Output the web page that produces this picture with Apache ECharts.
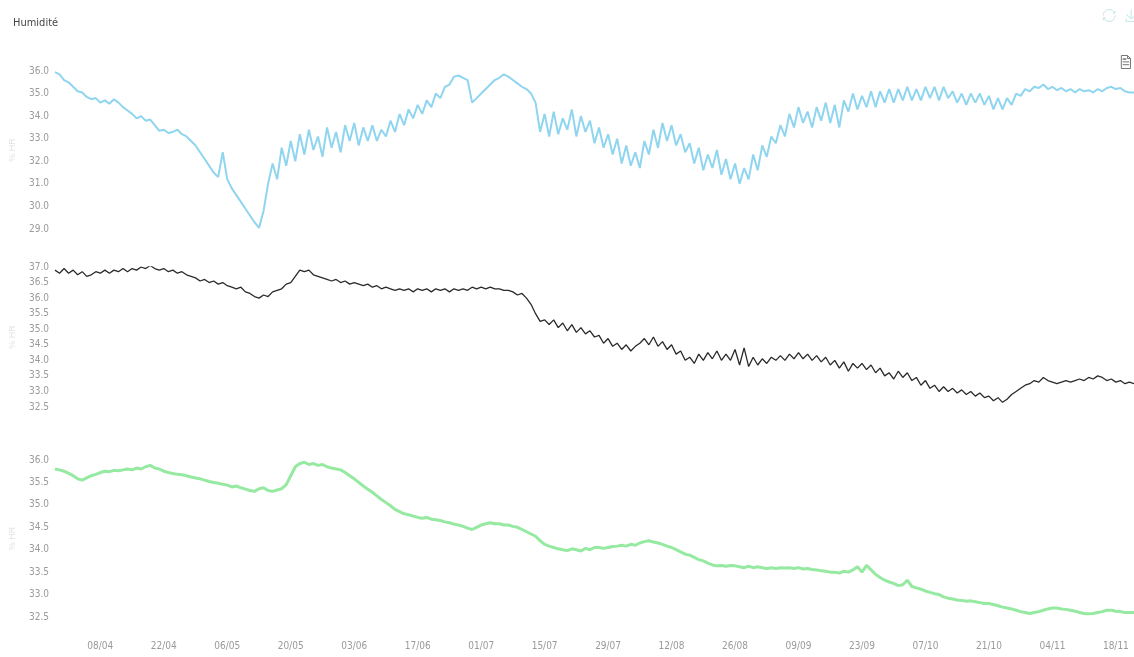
<!DOCTYPE html>
<html>
<head>
<meta charset="utf-8">
<script src="https://cdn.jsdelivr.net/npm/echarts@6/dist/echarts.min.js"></script>
<style>
html,body{margin:0;padding:0;background:#fff;}
#chart{width:1134px;height:657px;}
</style>
</head>
<body>
<div id="chart"></div>
<script>
// Dates: daily from 29/03 to 22/11
const startDate = {year: 2021, month: 3, day: 29};
const dayCount = 239;
const tickOffset = 10;   // first label (08/04) index
const tickStep = 14;

const humiditeA = [
35.95,35.85,35.6,35.5,35.3,35.1,35.05,34.85,34.75,34.8,
34.6,34.7,34.55,34.75,34.6,34.4,34.25,34.1,33.9,34.0,
33.8,33.85,33.6,33.35,33.4,33.25,33.3,33.4,33.2,33.1,
32.9,32.7,32.4,32.1,31.8,31.5,31.3,32.4,31.2,30.8,
30.5,30.2,29.9,29.6,29.3,29.05,29.8,31.0,31.9,31.2,
32.6,31.8,32.9,32.0,33.2,32.3,33.4,32.5,33.1,32.2,
33.5,32.6,33.3,32.4,33.6,32.9,33.7,32.7,33.5,32.9,
33.6,32.9,33.4,33.1,33.8,33.3,34.1,33.6,34.3,33.9,
34.5,34.1,34.7,34.4,35.0,34.8,35.3,35.4,35.75,35.8,
35.7,35.6,34.6,34.8,35.0,35.2,35.4,35.6,35.7,35.85,
35.75,35.6,35.45,35.3,35.2,35.0,34.6,33.3,34.1,33.1,
34.2,33.2,33.9,33.4,34.3,33.1,34.0,33.3,33.8,32.8,
33.5,32.6,33.2,32.3,33.0,31.9,32.7,31.8,32.4,31.7,
32.9,32.3,33.4,32.6,33.7,32.9,33.6,32.7,33.2,32.4,
32.8,31.9,32.6,31.6,32.3,31.7,32.5,31.4,32.1,31.2,
31.9,31.0,31.7,31.2,32.3,31.6,32.7,32.2,33.1,32.8,
33.6,33.1,34.1,33.5,34.4,33.7,34.2,33.5,34.4,33.8,
34.6,33.7,34.5,33.5,34.7,34.2,35.0,34.3,34.9,34.4,
35.1,34.4,35.1,34.6,35.2,34.6,35.2,34.7,35.3,34.7,
35.2,34.7,35.3,34.8,35.3,34.7,35.3,34.8,35.1,34.6,
35.0,34.5,35.0,34.6,35.0,34.5,34.9,34.3,34.8,34.3,
34.8,34.5,35.0,34.9,35.2,35.1,35.3,35.25,35.4,35.2,
35.3,35.15,35.25,35.1,35.2,35.05,35.2,35.1,35.15,35.05,
35.2,35.1,35.25,35.3,35.2,35.25,35.1,35.05,35.05
];

const humiditeB = [
36.9,36.8,36.95,36.8,36.9,36.75,36.85,36.7,36.75,36.85,
36.8,36.9,36.8,36.9,36.85,36.95,36.85,36.95,36.9,37.0,
36.95,37.05,36.95,36.9,36.95,36.85,36.9,36.8,36.85,36.75,
36.7,36.65,36.55,36.6,36.5,36.55,36.45,36.5,36.4,36.35,
36.3,36.35,36.2,36.15,36.05,36.0,36.1,36.05,36.2,36.25,
36.3,36.45,36.5,36.7,36.9,36.85,36.9,36.75,36.7,36.65,
36.6,36.55,36.6,36.5,36.55,36.45,36.5,36.45,36.4,36.45,
36.35,36.4,36.3,36.35,36.3,36.25,36.3,36.25,36.3,36.2,
36.3,36.25,36.3,36.2,36.3,36.25,36.3,36.2,36.3,36.25,
36.3,36.25,36.35,36.3,36.35,36.3,36.35,36.3,36.3,36.25,
36.25,36.2,36.1,36.15,36.0,35.8,35.5,35.25,35.3,35.15,
35.3,35.05,35.2,34.95,35.15,34.9,35.05,34.85,34.95,34.75,
34.8,34.55,34.7,34.45,34.55,34.35,34.5,34.3,34.45,34.55,
34.7,34.5,34.75,34.45,34.6,34.35,34.5,34.2,34.3,34.0,
34.1,33.9,34.2,34.0,34.25,34.05,34.3,34.0,34.2,34.0,
34.35,33.85,34.4,33.8,34.1,33.85,34.05,33.9,34.1,34.0,
34.15,34.0,34.2,34.05,34.25,34.05,34.2,34.0,34.15,33.95,
34.1,33.85,34.0,33.75,33.95,33.65,33.9,33.75,33.9,33.7,
33.85,33.6,33.75,33.5,33.6,33.4,33.65,33.45,33.6,33.35,
33.45,33.2,33.35,33.1,33.2,33.0,33.15,33.0,33.1,32.95,
33.05,32.9,33.0,32.85,32.95,32.8,32.85,32.7,32.8,32.65,
32.75,32.9,33.0,33.1,33.2,33.25,33.35,33.3,33.45,33.35,
33.3,33.25,33.3,33.35,33.3,33.35,33.4,33.35,33.45,33.4,
33.5,33.45,33.35,33.4,33.3,33.35,33.25,33.3,33.25
];

const humiditeC = [
35.8,35.78,35.75,35.7,35.65,35.58,35.55,35.6,35.65,35.68,
35.72,35.75,35.74,35.77,35.76,35.78,35.8,35.78,35.82,35.8,
35.85,35.88,35.82,35.8,35.75,35.72,35.7,35.68,35.67,35.65,
35.62,35.6,35.58,35.55,35.52,35.5,35.48,35.46,35.44,35.4,
35.42,35.38,35.35,35.32,35.3,35.36,35.38,35.32,35.3,35.33,
35.36,35.45,35.65,35.85,35.92,35.95,35.9,35.92,35.88,35.9,
35.85,35.82,35.8,35.78,35.72,35.65,35.58,35.5,35.42,35.35,
35.28,35.2,35.12,35.05,34.98,34.9,34.85,34.8,34.78,34.75,
34.72,34.7,34.72,34.68,34.67,34.65,34.62,34.6,34.57,34.55,
34.52,34.48,34.45,34.5,34.55,34.58,34.6,34.58,34.58,34.55,
34.55,34.52,34.5,34.45,34.4,34.35,34.3,34.2,34.12,34.08,
34.05,34.02,34.0,33.98,34.02,34.0,33.97,34.03,34.0,34.05,
34.05,34.03,34.05,34.07,34.08,34.1,34.08,34.12,34.1,34.15,
34.18,34.2,34.17,34.15,34.12,34.08,34.05,34.0,33.95,33.9,
33.88,33.83,33.78,33.75,33.7,33.66,33.64,33.65,33.63,33.65,
33.64,33.62,33.6,33.63,33.6,33.62,33.6,33.58,33.6,33.58,
33.6,33.59,33.6,33.58,33.6,33.57,33.58,33.56,33.55,33.53,
33.52,33.5,33.5,33.48,33.52,33.5,33.55,33.62,33.5,33.65,
33.55,33.45,33.38,33.32,33.28,33.25,33.2,33.22,33.32,33.18,
33.15,33.12,33.08,33.05,33.02,33.0,32.95,32.92,32.9,32.88,
32.87,32.85,32.86,32.84,32.82,32.8,32.8,32.78,32.75,32.72,
32.7,32.68,32.65,32.62,32.6,32.58,32.6,32.62,32.65,32.68,
32.7,32.7,32.68,32.67,32.65,32.63,32.6,32.58,32.57,32.58,
32.6,32.62,32.65,32.65,32.63,32.62,32.6,32.6,32.6
];

const axisA = {min: 29, max: 36, interval: 1};
const axisB = {min: 32.5, max: 37, interval: 0.5};
const axisC = {min: 32.5, max: 36, interval: 0.5};

const dates = [];
(function(){
  const d = new Date(Date.UTC(startDate.year, startDate.month - 1, startDate.day));
  for (let i = 0; i < dayCount; i++) {
    const dd = String(d.getUTCDate()).padStart(2, '0');
    const mm = String(d.getUTCMonth() + 1).padStart(2, '0');
    dates.push(dd + '/' + mm);
    d.setUTCDate(d.getUTCDate() + 1);
  }
})();

const chart = echarts.init(document.getElementById('chart'));
const grids = [
  {left: 53, right: 0, top: 71, height: 158},
  {left: 53, right: 0, top: 267, height: 140},
  {left: 53, right: 0, top: 460, height: 157}
];
function xAx(i, show) {
  return {
    type: 'category', gridIndex: i, data: dates, boundaryGap: false,
    axisLine: {show: false}, axisTick: {show: false}, splitLine: {show: false},
    axisLabel: show ? {
      show: true, color: '#9a9a9a', fontSize: 10, margin: 24,
      fontFamily: 'DejaVu Sans Condensed, Liberation Sans Narrow, sans-serif',
      interval: function (idx) { return (idx - tickOffset) % tickStep === 0 && idx >= tickOffset; }
    } : {show: false}
  };
}
function yAx(i, r) {
  return {
    type: 'value', gridIndex: i, min: r.min, max: r.max, interval: r.interval,
    name: '% HR', nameLocation: 'middle', nameGap: 38,
    nameTextStyle: {color: '#e2e2e2', fontSize: 9},
    axisLine: {show: false}, axisTick: {show: false}, splitLine: {show: false},
    axisLabel: {color: '#9a9a9a', fontSize: 10, margin: 6,
      fontFamily: 'DejaVu Sans Condensed, Liberation Sans Narrow, sans-serif',
      formatter: function (v) { return v.toFixed(1); }}
  };
}
chart.setOption({
  backgroundColor: '#fff',
  animation: false,
  title: {text: 'Humidité', left: 8, top: 13,
    textStyle: {fontSize: 11, fontWeight: 'normal', color: '#444', fontFamily: 'DejaVu Sans Condensed, sans-serif'}},
  toolbox: [
    {right: -20, top: -8, itemSize: 12, itemGap: 6, iconStyle: {borderColor: '#c4e6e8'},
      feature: {restore: {}, saveAsImage: {iconStyle: {borderColor: '#c4e6e8'}}}},
    {right: -14, top: 38, itemSize: 13, iconStyle: {borderColor: '#777'},
      feature: {dataView: {readOnly: true}}}
  ],
  grid: grids,
  xAxis: [xAx(0, false), xAx(1, false), xAx(2, true)],
  yAxis: [yAx(0, axisA), yAx(1, axisB), yAx(2, axisC)],
  series: [
    {type: 'line', xAxisIndex: 0, yAxisIndex: 0, data: humiditeA, showSymbol: false,
      lineStyle: {color: '#8fd5ef', width: 2}, itemStyle: {color: '#8fd5ef'}},
    {type: 'line', xAxisIndex: 1, yAxisIndex: 1, data: humiditeB, showSymbol: false,
      lineStyle: {color: '#2a2a2a', width: 1.3}, itemStyle: {color: '#2a2a2a'}},
    {type: 'line', xAxisIndex: 2, yAxisIndex: 2, data: humiditeC, showSymbol: false,
      lineStyle: {color: '#95e9a0', width: 3}, itemStyle: {color: '#95e9a0'}}
  ]
});
</script>
</body>
</html>
